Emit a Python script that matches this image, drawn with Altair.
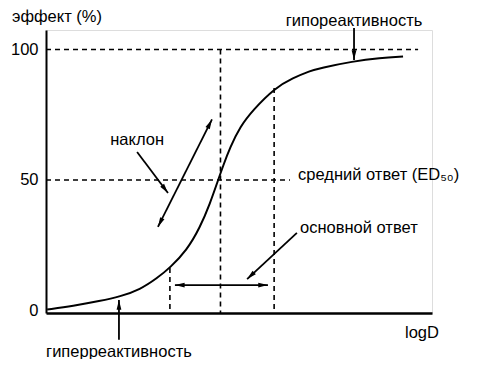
import math
import altair as alt
import pandas as pd

# ---- data ----
log_d = [0.03, 0.70, 1.40, 1.92, 2.44, 2.88, 3.21, 3.65, 3.99, 4.25, 4.46, 4.59,
         4.77, 5.03, 5.36, 5.93, 6.40, 6.84, 7.10, 7.95, 8.65, 9.25]
effect = [0.3, 1.7, 3.6, 5.3, 8.0, 12.4, 16.3, 23.1, 31.8, 41.0, 50.0, 55.5,
          62.5, 70.5, 76.8, 85.3, 89.1, 91.8, 92.9, 95.5, 96.8, 97.3]

y_ticks = [0, 50, 100]

# dashed guide lines: (x, y) -> (x2, y2)
guide_x1 = [0.0, 0.0, 4.52, 3.21, 5.91]
guide_y1 = [100, 50, 100, 16.3, 85.3]
guide_x2 = [9.64, 6.32, 4.52, 3.21, 5.91]
guide_y2 = [100, 50, -1, -1, -1]

# arrows: tail -> head, double = head at both ends
arrow_x1 = [7.98, 1.89, 2.36, 2.90, 3.34, 6.50]
arrow_y1 = [108.3, -11.3, 60.7, 32.0, 9.7, 29.7]
arrow_x2 = [7.98, 1.89, 3.16, 4.30, 5.75, 5.21]
arrow_y2 = [96.0, 4.0, 45.0, 73.2, 9.7, 12.0]
arrow_double = [False, False, False, True, True, False]

# labels
label_text = ["эффект (%)", "гипореактивность", "наклон", "средний ответ (ED₅₀)",
              "основной ответ", "гиперреактивность", "logD"]
label_x = [-0.88, 7.98, 2.36, 6.53, 6.58, 1.89, 9.74]
label_y = [112.5, 111.0, 65.3, 51.9, 31.6, -16.0, -8.7]
label_align = ["left", "center", "center", "left", "left", "center", "center"]

X_DOMAIN = [0, 10]
Y_DOMAIN = [-1, 107.5]
W, H = 386, 283
FONT = "Liberation Sans"
FS = 16.5

# ---- build tables ----
curve_df = pd.DataFrame({"logD": log_d, "effect": effect})
guide_df = pd.DataFrame({"x": guide_x1, "y": guide_y1, "x2": guide_x2, "y2": guide_y2})
arrow_df = pd.DataFrame({"x": arrow_x1, "y": arrow_y1, "x2": arrow_x2, "y2": arrow_y2})

sx = W / (X_DOMAIN[1] - X_DOMAIN[0])
sy = H / (Y_DOMAIN[1] - Y_DOMAIN[0])


def head_angle(xs, ys, xe, ye):
    dx = (xe - xs) * sx
    dy = -(ye - ys) * sy
    return math.degrees(math.atan2(dx, -dy)) % 360


heads = []
for x1, y1, x2, y2, dbl in zip(arrow_x1, arrow_y1, arrow_x2, arrow_y2, arrow_double):
    heads.append({"x": x2, "y": y2, "angle": head_angle(x1, y1, x2, y2)})
    if dbl:
        heads.append({"x": x1, "y": y1, "angle": head_angle(x2, y2, x1, y1)})
head_df = pd.DataFrame(heads)

label_df = pd.DataFrame({"text": label_text, "x": label_x, "y": label_y, "align": label_align})

xs = alt.Scale(domain=X_DOMAIN, nice=False, zero=False)
ys = alt.Scale(domain=Y_DOMAIN, nice=False, zero=False)

x_axis = alt.Axis(labels=False, ticks=False, grid=False, title=None,
                  domainColor="black", domainWidth=2.5)
y_axis = alt.Axis(values=y_ticks, ticks=False, grid=False, title=None,
                  domainColor="black", domainWidth=2, labelFont=FONT,
                  labelFontSize=FS, labelColor="black", labelPadding=8)

curve = alt.Chart(curve_df).mark_line(color="black", strokeWidth=2, interpolate="basis").encode(
    x=alt.X("logD:Q", scale=xs, axis=x_axis),
    y=alt.Y("effect:Q", scale=ys, axis=y_axis),
)

guides = alt.Chart(guide_df).mark_rule(color="black", strokeWidth=1.6, strokeDash=[5, 4]).encode(
    x=alt.X("x:Q", scale=xs), y=alt.Y("y:Q", scale=ys), x2="x2:Q", y2="y2:Q"
)

shafts = alt.Chart(arrow_df).mark_rule(color="black", strokeWidth=1.8).encode(
    x=alt.X("x:Q", scale=xs), y=alt.Y("y:Q", scale=ys), x2="x2:Q", y2="y2:Q"
)

arrow_heads = alt.Chart(head_df).mark_point(
    shape="M0,0L0.42,1.7L-0.42,1.7Z", filled=True, color="black", opacity=1, size=130
).encode(
    x=alt.X("x:Q", scale=xs), y=alt.Y("y:Q", scale=ys),
    angle=alt.Angle("angle:Q", scale=None),
)

labels = []
for al in ["left", "center"]:
    labels.append(
        alt.Chart(label_df[label_df["align"] == al]).mark_text(
            font=FONT, fontSize=FS, color="black", align=al, baseline="middle"
        ).encode(
            x=alt.X("x:Q", scale=xs), y=alt.Y("y:Q", scale=ys), text="text:N"
        )
    )

chart = alt.layer(guides, curve, shafts, arrow_heads, *labels).properties(
    width=W, height=H,
    autosize=alt.AutoSizeParams(type="none"),
    padding={"left": 38, "top": 22, "right": 45, "bottom": 46},
).configure_view(stroke=None).configure(background="white")

chart.save("out.html", embed_options={"renderer": "svg", "actions": False})
